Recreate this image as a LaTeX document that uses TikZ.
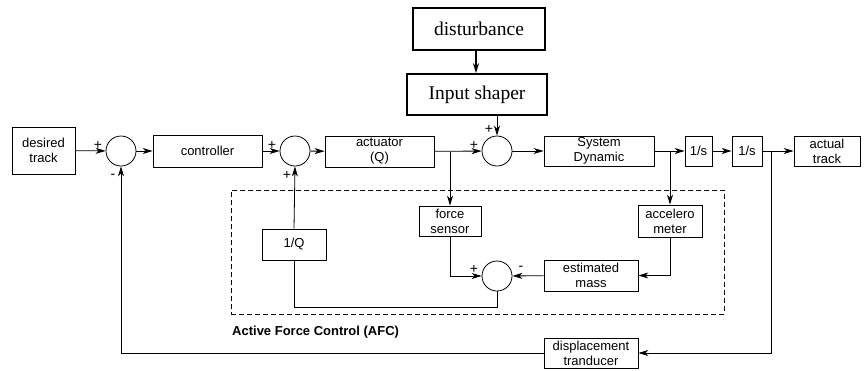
\documentclass[tikz,border=0pt]{standalone}
\usepackage{fontspec}
\setmainfont{Liberation Serif}
\setsansfont{Liberation Sans}
\usepackage{tikz}
\usetikzlibrary{arrows.meta,calc}
\tikzstyle{blk}=[rectangle, draw, line width=0.8pt, inner sep=0pt, align=center,% plain block
font=\sffamily\fontsize{13}{15}\selectfont]
\tikzstyle{thkblk}=[rectangle, draw, line width=1.6pt, inner sep=0pt,% bold block
font=\rmfamily\fontsize{19.5}{22}\selectfont]
\tikzstyle{sumc}=[circle, draw, line width=0.8pt, minimum size=30pt, inner sep=0pt]
\tikzstyle{sgn}=[inner sep=0pt, font=\sffamily\fontsize{14}{15}\selectfont]
\tikzstyle{sig}=[->, line width=0.8pt]

\begin{document}
\begin{tikzpicture}[x=1pt,y=-1pt,>={Stealth[length=10pt,width=6pt,inset=3pt]}]
\useasboundingbox (0,0) rectangle (864,370);
% forward path
\node[blk, minimum width=63pt, minimum height=47pt] (desired) at (43.5,150.5) {desired\\track};
\node[sumc] (s1) at (121,151) {};
\node[blk, minimum width=109pt, minimum height=32pt] (ctrl) at (207.5,151) {controller};
\node[sumc] (s2) at (295,151) {};
\node[blk, minimum width=109pt, minimum height=31pt] (act) at (379.5,151.5) {actuator\\(Q)};
\node[sumc] (s3) at (497,151) {};
\node[thkblk, minimum width=132pt, minimum height=42pt] (dist) at (479,29) {disturbance};
\node[thkblk, minimum width=140pt, minimum height=41pt] (shaper) at (477,94.5) {Input shaper};
\node[blk, minimum width=110pt, minimum height=30pt] (sys) at (599,151) {System\\Dynamic};
\node[blk, minimum width=27pt, minimum height=30pt] (int1) at (698.5,151) {1/s};
\node[blk, minimum width=30pt, minimum height=30pt] (int2) at (747,151) {1/s};
\node[blk, minimum width=66pt, minimum height=30pt] (out) at (827,151) {actual\\track};
% AFC loop
\node[draw, dashed, line width=0.8pt, dash pattern=on 5pt off 3pt, minimum width=493pt, minimum height=124pt, inner sep=0pt] (afc) at (477.5,252) {};
\node[anchor=west, inner sep=0pt, font=\sffamily\bfseries\fontsize{13}{15}\selectfont] (afclbl) at (232,332) {Active Force Control (AFC)};
\node[blk, minimum width=62pt, minimum height=30pt] (fs) at (450,221) {force\\sensor};
\node[blk, minimum width=64pt, minimum height=32pt] (acc) at (670,221) {accelero\\meter};
\node[blk, minimum width=64pt, minimum height=31pt] (invq) at (294,244.5) {1/Q};
\node[sumc] (s4) at (497,276) {};
\node[blk, minimum width=94pt, minimum height=31pt] (mass) at (591,275.5) {estimated\\mass};
\node[blk, minimum width=94pt, minimum height=30pt] (disp) at (591,353) {displacement\\tranducer};
% signs
\node[sgn] (s1a) at (98,145) {+};
\node[sgn] (s1b) at (113,176) {-};
\node[sgn] (s2a) at (272,145) {+};
\node[sgn] (s2b) at (287,175) {+};
\node[sgn] (s3a) at (474,145) {+};
\node[sgn] (s3b) at (489,129) {+};
\node[sgn] (s4a) at (474,269) {+};
\node[sgn] (s4b) at (521,268) {-};
% branch points
\coordinate (bF) at (fs.north |- act.east);
\coordinate (bA) at (acc.north |- sys.east);
\coordinate (bY) at (771,151);
\coordinate (fb) at (bY |- disp.east);
\coordinate (q1) at ($(s4.south)+(0,16)$);
\draw[sig] (desired) -- (s1);
\draw[sig] (s1) -- (ctrl);
\draw[sig] (ctrl) -- (s2);
\draw[sig] (s2) -- (act);
\draw[sig] (act) -- (s3);
\draw[sig, line width=1.6pt] (dist.south -| 476,0) -- (shaper.north -| 476,0);
\draw[sig] (shaper.south -| s3.north) -- (s3.north);
\draw[sig] (s3) -- (sys);
\draw[sig] (sys) -- (int1);
\draw[sig] (int1) -- (int2);
\draw[sig] (int2) -- (out);
\draw[sig] (bF) -- (fs.north);
\draw[sig] (bA) -- (acc.north);
\draw[sig] (acc.south) |- (mass.east);
\draw[sig] (mass) -- (s4);
\draw[sig] (fs.south) |- (s4.west);
\draw[line width=0.8pt] (s4.south) -- (q1) -| (invq.south);
\draw[sig] (invq.north) -- (s2.south);
\draw[sig] (bY) -- (fb) -- (disp.east);
\draw[sig] (disp.west) -| (s1.south);
\end{tikzpicture}
\end{document}
